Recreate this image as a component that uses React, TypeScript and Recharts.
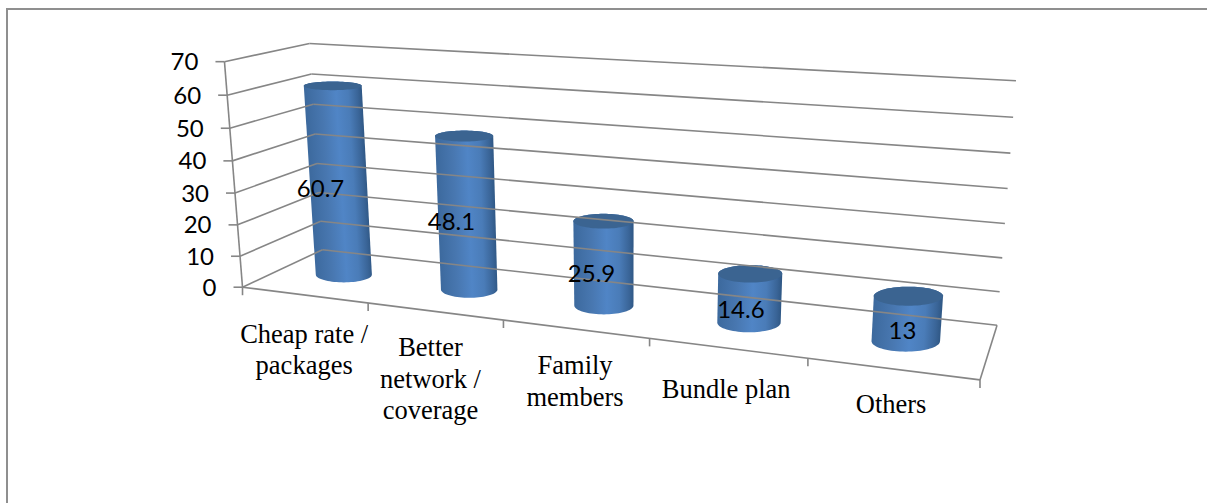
import React from "react";
import { BarChart, Bar, XAxis, YAxis, LabelList } from "recharts";

// Survey results: reasons for choosing a mobile operator (percent of respondents)
const categories = ["Cheap rate /\npackages", "Better\nnetwork /\ncoverage", "Family\nmembers", "Bundle plan", "Others"];
const percentages = [60.7, 48.1, 25.9, 14.6, 13];
const valueTicks = [0, 10, 20, 30, 40, 50, 60, 70];

const chartData = categories.map((name, i) => ({ name, percent: percentages[i] }));

const CHART_W = 1207;
const CHART_H = 503;
const PLOT = { left: 100, top: 50, right: 107, bottom: 103 };
const PLOT_W = CHART_W - PLOT.left - PLOT.right;
const PLOT_H = CHART_H - PLOT.top - PLOT.bottom;
const MAX_VALUE = 70;

const LINE = "#868686";
const LABEL_FONT = "Lato, 'Open Sans', sans-serif";
const CATEGORY_FONT = "'Liberation Serif', serif";

// Hand placement of the wrapped category names, in pixels from the edge point below each band.
const categoryNudge: [number, number][] = [
  [0, 1],
  [-4, -2],
  [0, -2],
  [-1, 3],
  [-1, -3],
];

// Box corners (across, up, deep) and where they land on the page; the camera is fitted to them.
const boxCorners: [number, number, number, number, number][] = [
  [0, 0, 0, 242, 286],
  [1, 0, 0, 980, 381],
  [0, 1, 0, 225, 62],
  [0, 0, 1, 323, 251],
  [1, 0, 1, 997, 324],
  [0, 1, 1, 309, 43],
  [1, 1, 1, 1016, 81],
];

function solve(A: number[][], b: number[]) {
  const n = b.length;
  const M = A.map((r, i) => [...r, b[i]]);
  for (let c = 0; c < n; c++) {
    let p = c;
    for (let r = c + 1; r < n; r++) if (Math.abs(M[r][c]) > Math.abs(M[p][c])) p = r;
    [M[c], M[p]] = [M[p], M[c]];
    for (let r = 0; r < n; r++) {
      if (r === c) continue;
      const f = M[r][c] / M[c][c];
      for (let k = c; k <= n; k++) M[r][k] -= f * M[c][k];
    }
  }
  return M.map((r, i) => r[n] / r[i]);
}

function fitCamera() {
  const rows: number[][] = [];
  const rhs: number[] = [];
  for (const [u, h, d, sx, sy] of boxCorners) {
    rows.push([u, h, d, 1, 0, 0, 0, 0, -sx * u, -sx * h, -sx * d]);
    rhs.push(sx);
    rows.push([0, 0, 0, 0, u, h, d, 1, -sy * u, -sy * h, -sy * d]);
    rhs.push(sy);
  }
  const n = 11;
  const AtA = Array.from({ length: n }, (_, i) =>
    Array.from({ length: n }, (_, j) => rows.reduce((s, r) => s + r[i] * r[j], 0))
  );
  const Atb = Array.from({ length: n }, (_, i) => rows.reduce((s, r, k) => s + r[i] * rhs[k], 0));
  return solve(AtA, Atb);
}

const cam = fitCamera();

function project(u: number, h: number, d: number): [number, number] {
  const w = cam[8] * u + cam[9] * h + cam[10] * d + 1;
  return [
    (cam[0] * u + cam[1] * h + cam[2] * d + cam[3]) / w,
    (cam[4] * u + cam[5] * h + cam[6] * d + cam[7]) / w,
  ];
}

const pathOf = (pts: [number, number][], close = false) =>
  pts.map((p, i) => `${i ? "L" : "M"}${p[0].toFixed(2)} ${p[1].toFixed(2)}`).join(" ") + (close ? " Z" : "");

function Edge({ from, to }: { from: [number, number]; to: [number, number] }) {
  return <line x1={from[0]} y1={from[1]} x2={to[0]} y2={to[1]} stroke={LINE} strokeWidth={1.6} />;
}

const uFromPixel = (x: number) => (x - PLOT.left) / PLOT_W;
const hFromValue = (v: number) => v / MAX_VALUE;

// Draws the value label, the tick and the gridlines on the side and back walls for one value.
function ValueTick(props: any) {
  const value: number = props.payload.value;
  const h = hFromValue(value);
  const front = project(0, h, 0);
  const back = project(0, h, 1);
  const right = project(1, h, 1);
  return (
    <g>
      <Edge from={[front[0] - 9, front[1]]} to={front} />
      <Edge from={front} to={back} />
      <Edge from={back} to={right} />
      {value === 0 && <Edge from={project(0, 0, 0)} to={project(0, 1, 0)} />}
      {value === 0 && <Edge from={project(0, 0, 0)} to={project(1, 0, 0)} />}
      {value === 0 && <Edge from={project(1, 0, 0)} to={project(1, 0, 1)} />}
      <text
        x={front[0] - 26}
        y={front[1] - 1}
        textAnchor="end"
        dominantBaseline="central"
        fontFamily={LABEL_FONT}
        fontSize={24}
        fill="#000"
      >
        {value}
      </text>
    </g>
  );
}

// Draws the tick marks along the front floor edge and the wrapped category name.
function CategoryTick(props: any) {
  const u = uFromPixel(props.x);
  const half = 0.5 / categories.length;
  const lines: string[] = String(props.payload.value).split("\n");
  const edge = project(u, 0, 0);
  const tickAt = project(u + half, 0, 0);
  const first = project(0, 0, 0);
  const [dx, dy] = categoryNudge[props.index] ?? [0, 0];
  return (
    <g>
      <Edge from={tickAt} to={[tickAt[0], tickAt[1] + 8]} />
      {props.index === 0 && <Edge from={first} to={[first[0], first[1] + 8]} />}
      <text textAnchor="middle" fontFamily={CATEGORY_FONT} fontSize={26.5} fill="#000">
        {lines.map((line, i) => (
          <tspan key={line} x={edge[0] + dx} y={edge[1] + 47 + dy + i * 31.5}>
            {line}
          </tspan>
        ))}
      </text>
    </g>
  );
}

const DEPTH_CENTER = 0.5;
const DEPTH_RADIUS = 0.2;

// Cylinder end cap: sized by the box projection, kept level on the page.
// The far-left cylinders get a little extra radius so they do not taper too hard.
function ring(uc: number, ru: number, h: number): [number, number][] {
  const c = project(uc, h, DEPTH_CENTER);
  const l = project(uc - ru, h, DEPTH_CENTER);
  const r = project(uc + ru, h, DEPTH_CENTER);
  const f = project(uc, h, DEPTH_CENTER - DEPTH_RADIUS);
  const b = project(uc, h, DEPTH_CENTER + DEPTH_RADIUS);
  const rx = (r[0] - l[0]) / 2 + 4 * Math.pow(1 - uc, 4);
  const ry = Math.abs(f[1] - b[1]) / 2;
  const pts: [number, number][] = [];
  for (let i = 0; i < 72; i++) {
    const a = (i / 72) * Math.PI * 2;
    pts.push([c[0] + rx * Math.cos(a), c[1] + ry * Math.sin(a)]);
  }
  return pts;
}

function hull(points: [number, number][]) {
  const pts = [...points].sort((a, b) => a[0] - b[0] || a[1] - b[1]);
  const cross = (o: number[], a: number[], b: number[]) =>
    (a[0] - o[0]) * (b[1] - o[1]) - (a[1] - o[1]) * (b[0] - o[0]);
  const build = (list: [number, number][]) => {
    const out: [number, number][] = [];
    for (const p of list) {
      while (out.length >= 2 && cross(out[out.length - 2], out[out.length - 1], p) <= 0) out.pop();
      out.push(p);
    }
    out.pop();
    return out;
  };
  return [...build(pts), ...build([...pts].reverse())];
}

// One cylinder, placed from the rectangle the bar scale produced for this category.
function Cylinder(props: any) {
  const { x, y, width, height, index } = props;
  const uc = uFromPixel(x + width / 2);
  const ru = width / 2 / PLOT_W;
  const hTop = 1 - (y - PLOT.top) / PLOT_H;
  const hBase = 1 - (y + height - PLOT.top) / PLOT_H;
  const top = ring(uc, ru, hTop);
  const base = ring(uc, ru, hBase);
  const body = hull([...top, ...base]);
  const tc = project(uc, hTop, DEPTH_CENTER);
  const bc = project(uc, hBase, DEPTH_CENTER);
  const radius = (Math.max(...top.map((p) => p[0])) - Math.min(...top.map((p) => p[0]))) / 2;
  const ax = [bc[0] - tc[0], bc[1] - tc[1]];
  const len = Math.hypot(ax[0], ax[1]) || 1;
  const nx = ax[1] / len;
  const ny = -ax[0] / len;
  const id = `cylinder-side-${index}`;
  return (
    <g>
      <defs>
        <linearGradient
          id={id}
          gradientUnits="userSpaceOnUse"
          x1={tc[0] - nx * radius}
          y1={tc[1] - ny * radius}
          x2={tc[0] + nx * radius}
          y2={tc[1] + ny * radius}
        >
          <stop offset="0" stopColor="#3c699d" />
          <stop offset="0.3" stopColor="#4877b0" />
          <stop offset="0.55" stopColor="#5085c6" />
          <stop offset="0.76" stopColor="#4a7cb8" />
          <stop offset="0.92" stopColor="#3a6598" />
          <stop offset="1" stopColor="#2f5784" />
        </linearGradient>
      </defs>
      <path d={pathOf(body, true)} fill={`url(#${id})`} />
      <path d={pathOf(top, true)} fill="#3b6491" />
    </g>
  );
}

// Value printed on the cylinder, set toward the front of the box at half height.
function ValueLabel(props: any) {
  const { x, y, width, height, value } = props;
  const uc = uFromPixel(x + width / 2);
  const h = 1 - (y + height / 2 - PLOT.top) / PLOT_H;
  const [sx, sy] = project(uc, h, 0.25);
  return (
    <text x={sx + 2} y={sy - 2} textAnchor="middle" dominantBaseline="central" fontFamily={LABEL_FONT} fontSize={24} fill="#000">
      {value}
    </text>
  );
}

export default function App() {
  return (
    <div style={{ position: "absolute", left: 0, top: 0, width: CHART_W, height: CHART_H, overflow: "hidden", background: "#fff" }}>
      <div style={{ position: "absolute", left: 6, top: 8, right: 0, bottom: 0, borderTop: "2.5px solid #8f8f8f", borderLeft: "2.5px solid #8f8f8f" }} />
      <BarChart
        width={CHART_W}
        height={CHART_H}
        data={chartData}
        margin={{ left: 0, top: PLOT.top, right: PLOT.right, bottom: 0 }}
        barCategoryGap="29%"
        style={{ position: "absolute", left: 0, top: 0 }}
      >
        <YAxis
          width={PLOT.left}
          domain={[0, MAX_VALUE]}
          ticks={valueTicks}
          interval={0}
          axisLine={false}
          tickLine={false}
          tick={<ValueTick />}
        />
        <XAxis
          dataKey="name"
          height={PLOT.bottom}
          interval={0}
          axisLine={false}
          tickLine={false}
          tick={<CategoryTick />}
        />
        <Bar dataKey="percent" isAnimationActive={false} shape={<Cylinder />}>
          <LabelList dataKey="percent" content={<ValueLabel />} />
        </Bar>
      </BarChart>
    </div>
  );
}
